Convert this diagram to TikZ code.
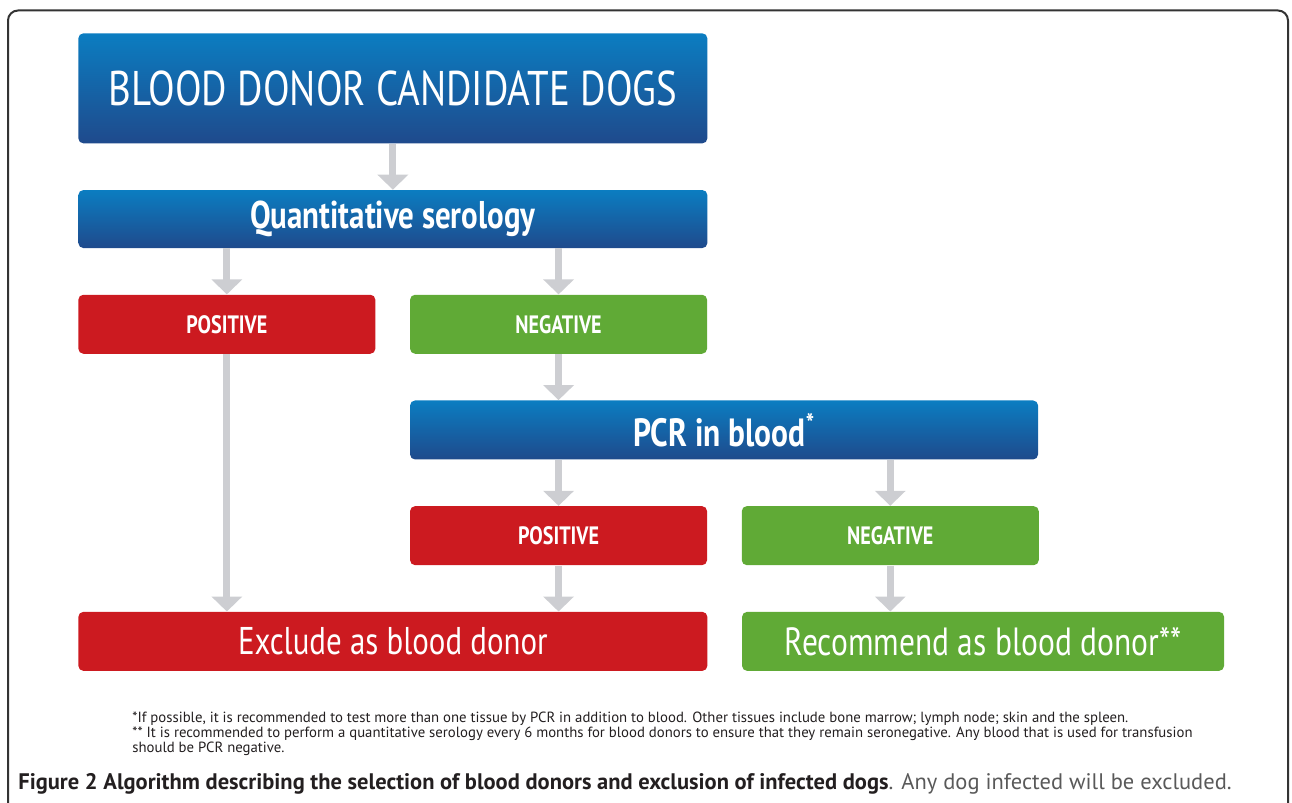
\documentclass[tikz,border=0pt]{standalone}
\usepackage{fontspec}
\setmainfont{PT Sans}
\newfontfamily\condfont[FakeStretch=0.8]{PT Sans}
\usetikzlibrary{arrows.meta, positioning}
\definecolor{donorblue}{HTML}{1F4A8C}
\definecolor{donorbluetop}{HTML}{0B7DC1}
\definecolor{donorred}{HTML}{CC1A20}
\definecolor{donorgreen}{HTML}{60AA36}
\definecolor{arrowgrey}{HTML}{CDCED2}
\definecolor{frameline}{HTML}{333333}
\definecolor{notetext}{HTML}{231F20}

\begin{document}
\begin{tikzpicture}[node distance=0.92cm and 0.68cm, >={Triangle[width=0.6cm, length=0.3cm]},
  box/.style={rectangle, rounded corners=0.1cm, fill=#1, text=white, minimum height=1.18cm, minimum width=5.94cm, align=center, inner sep=0pt, font=\condfont\bfseries\fontsize{14.3}{16}\selectfont},
  box/.default=donorred,
  bluebox/.style={rectangle, rounded corners=0.1cm, top color=donorbluetop, bottom color=donorblue, text=white, minimum width=12.58cm, minimum height=1.16cm, align=center, inner sep=0pt},
  flow/.style={->, draw=arrowgrey, line width=0.14cm}]
  \useasboundingbox (0,0) rectangle (25.84,-16.06);
  \draw[frameline, line width=0.04cm, rounded corners=0.2cm] (0.16,-16.6) -- (0.16,-0.21) -- (25.76,-0.21) -- (25.76,-16.6);

  \node[bluebox, minimum height=2.2cm, anchor=north west, font=\condfont\fontsize{27.7}{30}\selectfont] (donors) at (1.56,-0.66) {BLOOD DONOR CANDIDATE DOGS};
  \node[bluebox, below=of donors, font=\condfont\bfseries\fontsize{22}{24}\selectfont] (serology) {Quantitative serology};
  \node[box=donorred, below right=0.92cm and 0cm of serology.south west] (pos1) {POSITIVE};
  \node[box=donorgreen, right=of pos1] (neg1) {NEGATIVE};
  \node[bluebox, minimum width=12.56cm, minimum height=1.18cm, below right=0.92cm and 0cm of neg1.south west, font=\condfont\bfseries\fontsize{22.4}{24}\selectfont] (pcr) {PCR in blood\textsuperscript{*}};
  \node[box=donorred, below right=0.92cm and 0cm of pcr.south west] (pos2) {POSITIVE};
  \node[box=donorgreen, right=of pos2] (neg2) {NEGATIVE};
  \node[box=donorred, minimum width=12.58cm, anchor=north west, yshift=-0.92cm, font=\condfont\fontsize{22}{24}\selectfont] (exclude) at (pos1.west |- pos2.south) {Exclude as blood donor};
  \node[box=donorgreen, minimum width=9.64cm, right=of exclude, font=\condfont\fontsize{22.4}{24}\selectfont] (recommend) {Recommend as blood donor**};

  \draw[flow] (donors) -- (serology);
  \draw[flow] (serology.south -| pos1) -- (pos1);
  \draw[flow] (serology.south -| neg1) -- (neg1);
  \draw[flow] (neg1) -- (neg1 |- pcr.north);
  \draw[flow] (pcr.south -| pos2) -- (pos2);
  \draw[flow] (pcr.south -| neg2) -- (neg2);
  \draw[flow] (pos1) -- (pos1 |- exclude.north);
  \draw[flow] (pos2) -- (pos2 |- exclude.north);
  \draw[flow] (neg2) -- (neg2 |- recommend.north);

  % notes under the chart
  \node[inner sep=0pt, align=left, text=notetext, font=\fontsize{8.4}{8.5}\selectfont, below right=0.8cm and 1.08cm of exclude.south west] (notes) {*If possible, it is recommended to test more than one tissue by PCR in addition to blood. Other tissues include bone marrow; lymph node; skin and the spleen.\\** It is recommended to perform a quantitative serology every 6 months for blood donors to ensure that they remain seronegative. Any blood that is used for transfusion\\should be PCR negative.};
  \node[anchor=base west, inner sep=0pt, text=black!65, font=\fontsize{12.8}{14}\selectfont] (caption) at (0.36,-15.78) {\textcolor{notetext}{\bfseries Figure 2 Algorithm describing the selection of blood donors and exclusion of infected dogs}. Any dog infected will be excluded.};
\end{tikzpicture}
\end{document}
